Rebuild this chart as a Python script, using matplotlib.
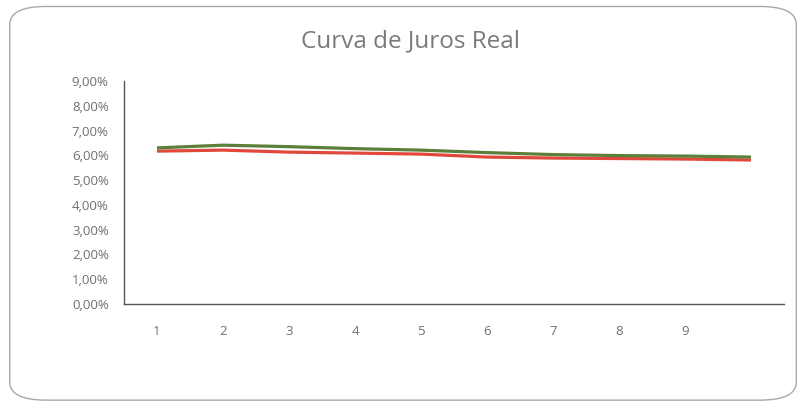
import matplotlib.pyplot as plt
from matplotlib.patches import FancyBboxPatch

# Data (percent)
vertices = [1, 2, 3, 4, 5, 6, 7, 8, 9, 10]
x_labels = ['1', '2', '3', '4', '5', '6', '7', '8', '9', '']
green_curve = [6.30, 6.41, 6.35, 6.27, 6.21, 6.11, 6.03, 5.99, 5.97, 5.93]
red_curve = [6.17, 6.21, 6.13, 6.09, 6.05, 5.93, 5.89, 5.87, 5.85, 5.81]
y_ticks = [0, 1, 2, 3, 4, 5, 6, 7, 8, 9]
y_labels = [f"{v},00%" for v in y_ticks]

plt.rcParams['font.family'] = ['Open Sans', 'DejaVu Sans']

fig = plt.figure(figsize=(8.06, 4.05), dpi=100)
fig.patch.set_facecolor('white')

# rounded chart border
border = FancyBboxPatch((0.012, 0.012), 0.976, 0.972,
                        boxstyle="round,pad=0,rounding_size=0.045",
                        transform=fig.transFigure, fill=False,
                        edgecolor='#a8a8a8', linewidth=1.0)
fig.patches.append(border)

ax = fig.add_axes([124 / 806, 101 / 405, 660 / 806, 223 / 405])
ax.plot(vertices, red_curve, color='#e0483c', linewidth=2.3, solid_capstyle='butt')
ax.plot(vertices, green_curve, color='#5c7f3a', linewidth=2.3, solid_capstyle='butt')

ax.set_xlim(0.5, 10.5)
ax.set_ylim(0, 9)
ax.set_xticks(vertices)
ax.set_xticklabels(x_labels)
ax.set_yticks(y_ticks)
ax.set_yticklabels(y_labels)

for side in ['top', 'right']:
    ax.spines[side].set_visible(False)
for side in ['left', 'bottom']:
    ax.spines[side].set_color('#555555')
    ax.spines[side].set_linewidth(1.0)

ax.tick_params(axis='both', length=0, labelsize=9.5, labelcolor='#707070')
ax.tick_params(axis='y', pad=11)
ax.tick_params(axis='x', pad=15)

fig.text(0.509, 0.897, 'Curva de Juros Real', ha='center', va='center',
         fontsize=17.5, color='#7a7a7a')

fig.savefig('out.png', dpi=100)
